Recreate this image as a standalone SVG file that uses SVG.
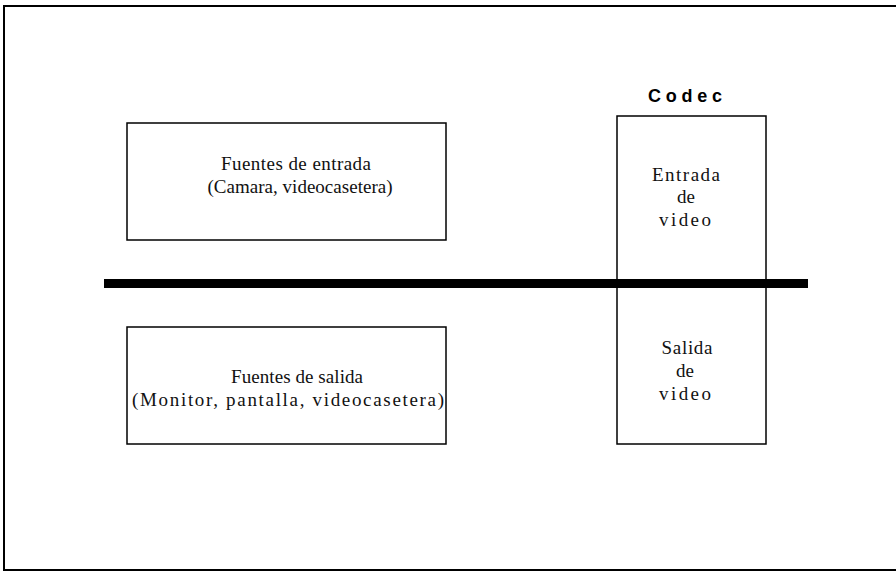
<svg xmlns="http://www.w3.org/2000/svg" width="896" height="574" viewBox="0 0 896 574">
<style>
.box{fill:#fff;stroke:#000;stroke-width:1.5}
.t{font-family:"Liberation Serif","Times New Roman",serif;font-size:19px;fill:#111;text-anchor:middle}
.title{font-family:"Liberation Sans",Arial,sans-serif;font-size:18px;font-weight:bold;fill:#000;text-anchor:middle}
</style>
<rect width="896" height="574" fill="#fff"/>
<g id="frame">
<polyline points="896,6 4,6 4,570 896,570" fill="none" stroke="#000" stroke-width="2"/>
</g>
<g id="fuentes-entrada">
<rect class="box" x="127" y="123" width="319" height="117"/>
<text class="t" x="296" y="170" textLength="150" lengthAdjust="spacing">Fuentes de entrada</text>
<text class="t" x="300" y="193" textLength="185" lengthAdjust="spacing">(Camara, videocasetera)</text>
</g>
<g id="fuentes-salida">
<rect class="box" x="127" y="327" width="319" height="117"/>
<text class="t" x="297" y="383" textLength="132" lengthAdjust="spacing">Fuentes de salida</text>
<text class="t" x="288" y="406" textLength="312" lengthAdjust="spacing">(Monitor, pantalla, videocasetera)</text>
</g>
<g id="codec">
<text class="title" x="685" y="102" textLength="74" lengthAdjust="spacing">Codec</text>
<rect class="box" x="617" y="116" width="149" height="328"/>
<text class="t" x="686" y="181" textLength="68" lengthAdjust="spacing">Entrada</text>
<text class="t" x="686" y="203">de</text>
<text class="t" x="685" y="226" textLength="52" lengthAdjust="spacing">video</text>
<text class="t" x="687" y="354" textLength="51" lengthAdjust="spacing">Salida</text>
<text class="t" x="685" y="377">de</text>
<text class="t" x="685" y="400" textLength="52" lengthAdjust="spacing">video</text>
</g>
<g id="connectors">
<rect x="104" y="279" width="704" height="9" fill="#000"/>
</g>
</svg>
